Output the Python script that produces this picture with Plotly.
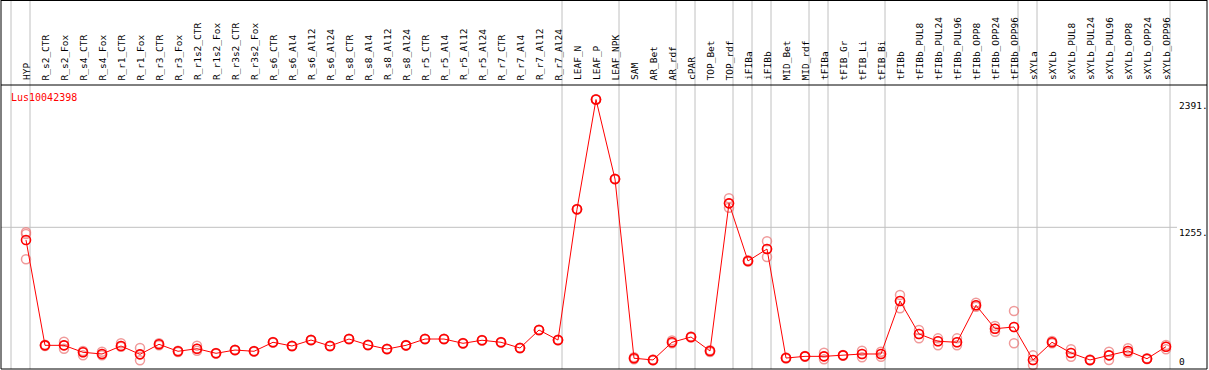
import plotly.graph_objects as go

categories = ["HYP", "R_s2_CTR", "R_s2_Fox", "R_s4_CTR", "R_s4_Fox", "R_r1_CTR", "R_r1_Fox",
              "R_r3_CTR", "R_r3_Fox", "R_r1s2_CTR", "R_r1s2_Fox", "R_r3s2_CTR", "R_r3s2_Fox",
              "R_s6_CTR", "R_s6_Al4", "R_s6_Al12", "R_s6_Al24", "R_s8_CTR", "R_s8_Al4", "R_s8_Al12",
              "R_s8_Al24", "R_r5_CTR", "R_r5_Al4", "R_r5_Al12", "R_r5_Al24", "R_r7_CTR", "R_r7_Al4",
              "R_r7_Al12", "R_r7_Al24", "LEAF_N", "LEAF_P", "LEAF_NPK", "SAM", "AR_Bet", "AR_rdf",
              "cPAR", "TOP_Bet", "TOP_rdf", "iFIBa", "iFIBb", "MID_Bet", "MID_rdf", "tFIBa",
              "tFIB_Gr", "tFIB_Li", "tFIB_Bi", "tFIBb", "tFIBb_PUL8", "tFIBb_PUL24", "tFIBb_PUL96",
              "tFIBb_OPP8", "tFIBb_OPP24", "tFIBb_OPP96", "sXYLa", "sXYLb", "sXYLb_PUL8",
              "sXYLb_PUL24", "sXYLb_PUL96", "sXYLb_OPP8", "sXYLb_OPP24", "sXYLb_OPP96"]

group_sizes = [1, 28, 3, 3, 1, 2, 1, 1, 2, 1, 3, 7, 1, 7]

mean_values = [1142, 206, 206, 144, 129, 200, 126, 215, 153, 176, 135, 164, 153,
               233, 200, 253, 200, 262, 209, 173, 206, 262, 262, 224, 251, 233, 182,
               342, 253, 1415, 2391, 1684, 91, 76, 233, 280, 156, 1468, 956, 1062,
               93, 108, 108, 117, 129, 129, 600, 307, 242, 233, 562, 354, 369,
               76, 233, 138, 76, 117, 156, 87, 194]

rep1 = [1211, 212, 238, 156, 149, 224, 182, 224, 158, 203, 138, 167, 156,
        236, 203, 256, 203, 265, 212, 176, 209, 265, 265, 227, 254, 236, 185,
        345, 256, 1418, 2394, 1687, 100, 80, 250, 285, 162, 1513, 962, 1131,
        98, 112, 140, 120, 158, 149, 653, 342, 268, 268, 585, 378, 511,
        117, 244, 171, 80, 149, 180, 91, 209]
rep2 = [1196, 206, 206, 144, 129, 200, 126, 215, 153, 176, 135, 164, 153,
        233, 200, 253, 200, 262, 209, 173, 206, 262, 262, 224, 251, 233, 182,
        342, 253, 1415, 2391, 1684, 91, 76, 233, 280, 156, 1468, 956, 1062,
        93, 108, 108, 117, 129, 129, 600, 307, 242, 233, 562, 354, 369,
        76, 233, 138, 76, 117, 156, 87, 194]
rep3 = [971, 200, 176, 117, 117, 194, 73, 206, 147, 158, 132, 161, 150,
        230, 197, 250, 197, 259, 206, 170, 203, 259, 259, 221, 248, 230, 179,
        339, 250, 1412, 2388, 1681, 82, 72, 224, 275, 147, 1429, 950, 991,
        88, 104, 82, 114, 100, 105, 535, 268, 206, 206, 549, 327, 224,
        31, 224, 105, 72, 76, 140, 83, 171]

y_tick_values = [2391, 1255, 0]
y_tick_labels = ["2391.", "1255.", "0"]
gene_id = "Lus10042398"

W, H = 1209, 370
# pixel geometry
X0PIX, XSTEP = 26.0, 19.0
Y0PIX, YSCALE = 368.5, 0.1125

def px2x(p):
    return (p - X0PIX) / XSTEP

def py2y(p):
    return (Y0PIX - p) / YSCALE

def ppx(p):
    return p / W

def ppy(p):
    return 1 - p / H

xs = list(range(len(categories)))
fig = go.Figure()

rep_x, rep_y = [], []
for r in (rep1, rep2, rep3):
    rep_x += xs
    rep_y += r
fig.add_trace(go.Scatter(x=rep_x, y=rep_y, mode="markers",
                         marker=dict(symbol="circle-open", size=9, color="rgba(235,120,120,0.75)",
                                     line=dict(width=1.5)),
                         hoverinfo="skip", showlegend=False))
fig.add_trace(go.Scatter(x=xs, y=mean_values, mode="lines+markers",
                         line=dict(color="#ff0000", width=1),
                         marker=dict(symbol="circle-open", size=9, color="#ff0000",
                                     line=dict(width=1.6)),
                         showlegend=False))

shapes = []
# group separators
b = 0
bounds = [0]
for g in group_sizes:
    b += g
    bounds.append(b)
for k in bounds:
    xv = k - 15.0 / XSTEP
    shapes.append(dict(type="line", xref="x", yref="paper", x0=xv, x1=xv, y0=ppy(369), y1=1,
                       line=dict(color="#c0c0c0", width=1), layer="below"))
# grid line at middle tick
shapes.append(dict(type="line", xref="paper", yref="y", x0=ppx(1), x1=ppx(1177),
                   y0=y_tick_values[1], y1=y_tick_values[1],
                   line=dict(color="#c0c0c0", width=1), layer="below"))
# frame
for (x0, y0, x1, y1) in [(1, 0.5, 1207, 0.5), (1, 85, 1207, 85), (1, 369, 1207, 369),
                         (1, 0, 1, 369), (1207, 0, 1207, 369)]:
    shapes.append(dict(type="line", xref="paper", yref="paper",
                       x0=ppx(x0), x1=ppx(x1), y0=ppy(y0), y1=ppy(y1),
                       line=dict(color="black", width=1)))

annotations = []
for i, c in enumerate(categories):
    annotations.append(dict(x=i, xref="x", y=ppy(82.5), yref="paper", text=c, textangle=-90,
                            showarrow=False, xanchor="center", yanchor="bottom",
                            font=dict(family="DejaVu Sans Mono", size=9.5, color="black")))
annotations.append(dict(x=ppx(9), xref="paper", y=ppy(97), yref="paper", text=gene_id,
                        showarrow=False, xanchor="left", yanchor="middle",
                        font=dict(family="DejaVu Sans Mono", size=10, color="#ff0000")))
for v, t in zip(y_tick_values, y_tick_labels):
    shift = 7 if v == 0 else -5.5
    annotations.append(dict(x=ppx(1177), xref="paper", y=v, yref="y", yshift=shift, text=t,
                            showarrow=False, xanchor="left", yanchor="middle",
                            font=dict(family="DejaVu Sans Mono", size=9.5, color="black")))

fig.update_layout(
    width=W, height=H, autosize=False,
    margin=dict(l=0, r=0, t=0, b=0, pad=0),
    paper_bgcolor="white", plot_bgcolor="white",
    xaxis=dict(range=[px2x(0), px2x(W)], visible=False, fixedrange=True),
    yaxis=dict(range=[py2y(H), py2y(0)], visible=False, fixedrange=True),
    shapes=shapes, annotations=annotations, showlegend=False,
)
fig.write_html("out.html", config={"displayModeBar": False},
               post_script="document.body.style.margin='0';document.body.style.overflow='hidden';")
